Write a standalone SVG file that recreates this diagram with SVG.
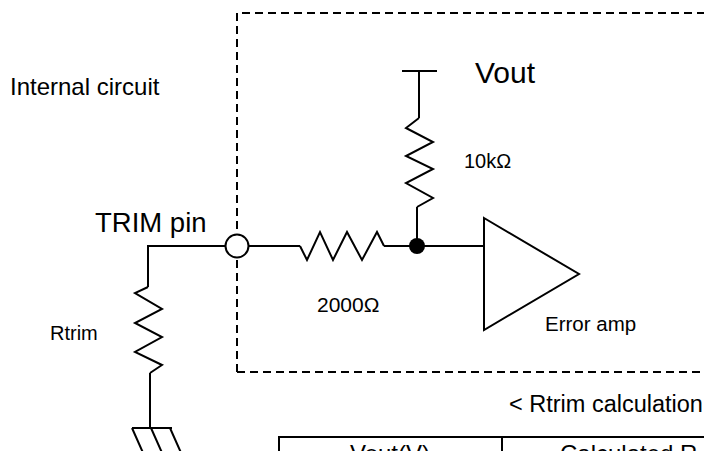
<svg xmlns="http://www.w3.org/2000/svg" width="704" height="451" viewBox="0 0 704 451">
<style>
.w{fill:none;stroke:#000;stroke-width:2;stroke-linejoin:miter;stroke-linecap:butt}
.d{fill:none;stroke:#000;stroke-width:2;stroke-dasharray:8 5}
.t{font-family:"Liberation Sans",Arial,sans-serif;fill:#000}
</style>
<rect width="704" height="451" fill="#fff"/>
<g id="boundary">
<path class="d" d="M237 372V13H710M237 372H710"/>
</g>
<g id="connectors">
<path class="w" d="M419 71V118"/>
<path class="w" d="M417 207V246"/>
<path class="w" d="M249 246H300"/>
<path class="w" d="M384 246H484"/>
<path class="w" d="M225 246H148V287"/>
<path class="w" d="M150 373V428"/>
</g>
<g id="vout">
<path class="w" d="M402 71H437"/>
<text class="t" x="475" y="83" font-size="30">Vout</text>
</g>
<g id="r10k">
<path class="w" d="M419 118L406 128L433 142L406 156L433 169L406 183L433 198L417 207"/>
<text class="t" x="464" y="168" font-size="20">10kΩ</text>
</g>
<g id="r2000">
<path class="w" d="M300 246L307 260L320 232L333 260L347 232L362 260L377 232L384 246"/>
<text class="t" x="317" y="312" font-size="21">2000Ω</text>
</g>
<g id="junction">
<circle cx="417" cy="246" r="8" fill="#000"/>
</g>
<g id="error-amp">
<path class="w" d="M484 218L579 274L484 330Z" fill="#fff"/>
<text class="t" x="545" y="331" font-size="20.5">Error amp</text>
</g>
<g id="trim-pin">
<circle cx="237" cy="246" r="11.5" fill="#fff" stroke="#000" stroke-width="2"/>
<text class="t" x="95" y="232" font-size="27.5">TRIM pin</text>
</g>
<g id="rtrim">
<path class="w" d="M148 287L135 293L162 309L135 323L162 337L135 352L162 365L150 373"/>
<text class="t" x="50" y="340" font-size="20">Rtrim</text>
</g>
<g id="ground">
<path class="w" d="M132 428H172M132 428L144 455M151 428L163 455M170 428L182 455"/>
</g>
<g id="labels">
<text class="t" x="10" y="95" font-size="24">Internal circuit</text>
<text class="t" x="509" y="412" font-size="23.5">&lt; Rtrim calculation</text>
</g>
<g id="table">
<path class="w" d="M279 460V437H710M502 437V460"/>
<text class="t" x="390" y="462" font-size="24" text-anchor="middle">Vout(V)</text>
<text class="t" x="560" y="462" font-size="24">Calculated R</text>
</g>
</svg>
